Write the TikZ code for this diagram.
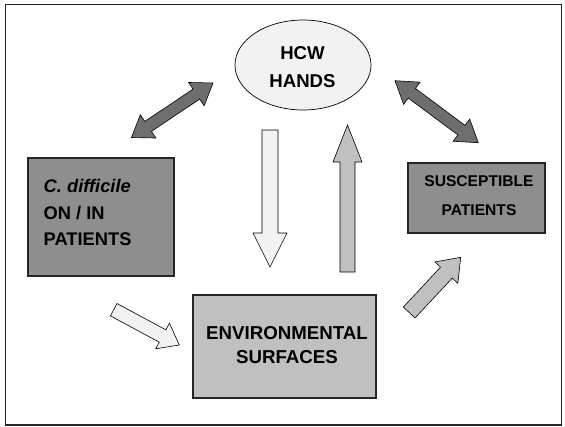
\documentclass[tikz,border=0pt]{standalone}
\usepackage{fontspec}
\setmainfont{Liberation Sans}
\usetikzlibrary{calc,shapes.geometric}

\definecolor{boxdark}{HTML}{8E8E8E}
\definecolor{boxlight}{HTML}{C0C0C0}
\definecolor{arrowdark}{HTML}{6E6E6E}
\definecolor{paleflow}{HTML}{F2F2F2}

\tikzset{
  frameline/.style={draw=black!85, line width=1.5pt},
  box/.style={draw=black!85, line width=1.1pt, inner sep=0pt},
  hands/.style={ellipse, draw=black, line width=0.7pt, fill=paleflow,
    minimum width=136pt, minimum height=90pt, inner sep=0pt},
  bigtext/.style={font=\fontsize{18.6}{28}\selectfont\bfseries, align=center},
  fatbase/.style={draw=black, line width=0.6pt, line join=miter},
  fatdark/.style={fatbase, fill=arrowdark},
  fatpale/.style={fatbase, fill=paleflow},
  fatgrey/.style={fatbase, fill=boxlight},
}

% block arrow: style, tail, tip, shaft half width, head half width, head length
\newcommand\FatSingle[6]{%
  \coordinate (fs-h) at ($(#3)!#6!(#2)$);
  \draw[#1] ($(#2)!#4!90:(#3)$) -- ($(fs-h)!#4!-90:(#2)$)
    -- ($(fs-h)!#5!-90:(#2)$) -- (#3) -- ($(fs-h)!#5!90:(#2)$)
    -- ($(fs-h)!#4!90:(#2)$) -- ($(#2)!#4!-90:(#3)$) -- cycle;
}
% two-headed block arrow: style, end, end, shaft half width, head half width, head length
\newcommand\FatDouble[6]{%
  \coordinate (fd-a) at ($(#2)!#6!(#3)$);
  \coordinate (fd-b) at ($(#3)!#6!(#2)$);
  \draw[#1] (#2) -- ($(fd-a)!#5!90:(#3)$) -- ($(fd-a)!#4!90:(#3)$)
    -- ($(fd-b)!#4!-90:(#2)$) -- ($(fd-b)!#5!-90:(#2)$) -- (#3)
    -- ($(fd-b)!#5!90:(#2)$) -- ($(fd-b)!#4!90:(#2)$)
    -- ($(fd-a)!#4!-90:(#3)$) -- ($(fd-a)!#5!-90:(#3)$) -- cycle;
}

\begin{document}
\begin{tikzpicture}[x=1pt, y=-1pt]
  \useasboundingbox (0,0) rectangle (565,426);
  \fill[white] (0,0) rectangle (565,426);
  \draw[frameline] (5.7,4.7) rectangle (561.5,425);

  % hands of health-care workers
  \node[hands] (hcw) at (303,65) {};
  \node[bigtext] (hcwtext) at (302.5,67) {HCW\\HANDS};

  % colonised patients
  \node[box, fill=boxdark, minimum width=146pt, minimum height=118pt] (source) at (101,217) {};
  \node[font=\fontsize{18.3}{26.5}\selectfont\bfseries, align=left, anchor=west, inner sep=0pt]
    (sourcetext) at (43.5,212.5) {{\itshape C. difficile}\\ON / IN\\PATIENTS};

  % susceptible patients
  \node[box, fill=boxdark, minimum width=137pt, minimum height=70pt] (target) at (476.5,198) {};
  \node[font=\fontsize{15.6}{29}\selectfont\bfseries, align=center]
    (targettext) at (479,195.5) {SUSCEPTIBLE\\PATIENTS};

  % environment
  \node[box, fill=boxlight, minimum width=183pt, minimum height=103pt] (env) at (284.5,346.5) {};
  \node[font=\fontsize{18.7}{24}\selectfont\bfseries, align=center]
    (envtext) at (287,345) {ENVIRONMENTAL\\SURFACES};

  % arrow end points
  \coordinate (ls-a) at (131.5,137.5);  \coordinate (ls-b) at (213,83);
  \coordinate (rs-a) at (395,80.7);     \coordinate (rs-b) at (478.3,142.7);
  \coordinate (dn-a) at (270,130);      \coordinate (dn-b) at (270,267);
  \coordinate (up-a) at (347.5,272);    \coordinate (up-b) at (347.5,125);
  \coordinate (pe-a) at (113.7,309.7);  \coordinate (pe-b) at (179.3,345);
  \coordinate (es-a) at (409.2,312.5);  \coordinate (es-b) at (460.7,257.3);

  \FatDouble{fatdark}{ls-a}{ls-b}{6pt}{14pt}{20pt}
  \FatDouble{fatdark}{rs-a}{rs-b}{6pt}{13.8pt}{21pt}
  \FatSingle{fatpale}{dn-a}{dn-b}{8pt}{17pt}{34pt}
  \FatSingle{fatgrey}{up-a}{up-b}{7.5pt}{14.5pt}{37pt}
  \FatSingle{fatpale}{pe-a}{pe-b}{7pt}{14.5pt}{19pt}
  \FatSingle{fatgrey}{es-a}{es-b}{8pt}{15.7pt}{21pt}
\end{tikzpicture}
\end{document}
